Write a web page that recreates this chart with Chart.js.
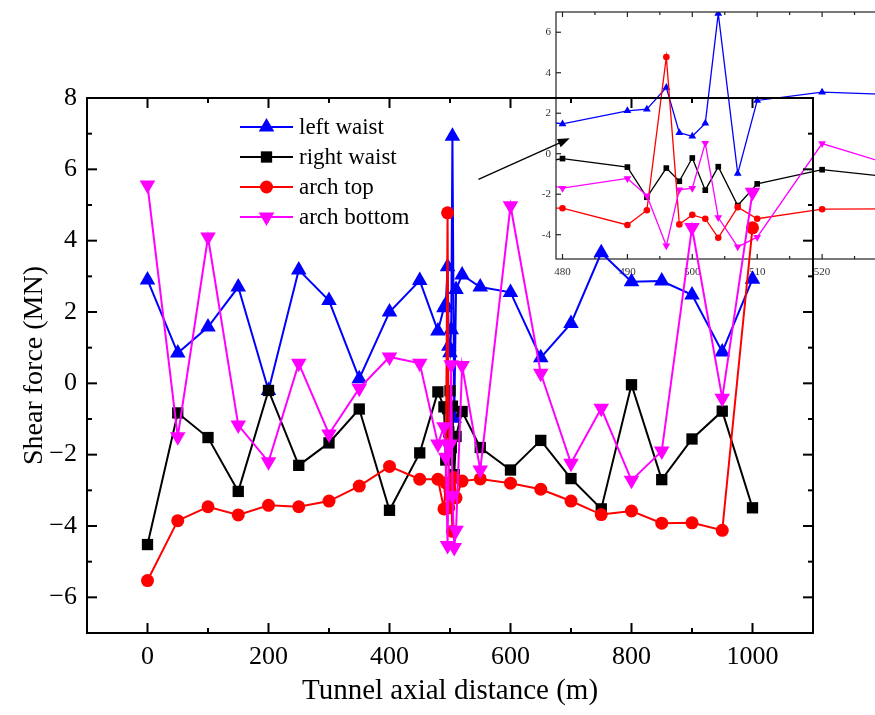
<!DOCTYPE html>
<html>
<head>
<meta charset="utf-8">
<script src="https://cdn.jsdelivr.net/npm/chart.js@4.4.1/dist/chart.umd.min.js"></script>
<style>
  html, body { margin: 0; padding: 0; background: #fff; overflow: hidden; }
  #wrap { position: relative; width: 875px; height: 715px; overflow: hidden; }
  #inset { position: absolute; left: 500px; top: 0; }
  #main { position: absolute; left: 0; top: 0; }
</style>
</head>
<body>
<div id="wrap">
  <canvas id="inset" width="420" height="290"></canvas>
  <canvas id="main" width="875" height="715"></canvas>
</div>
<script>
// Tunnel axial distance (m)
const distance = [0, 50, 100, 150, 200, 250, 300, 350, 400, 450, 480, 490, 493, 496, 498, 500, 502, 504, 507, 510, 520, 550, 600, 650, 700, 750, 800, 850, 900, 950, 1000];

// Shear force (MN)
const leftWaist = [2.9, 0.85, 1.58, 2.7, -0.2, 3.18, 2.32, 0.13, 2.0, 2.88, 1.47, 2.12, 2.2, 3.27, 1.04, 0.86, 1.5, 6.93, -0.98, 2.63, 3.04, 2.7, 2.55, 0.72, 1.68, 3.66, 2.85, 2.87, 2.48, 0.88, 2.92];
const rightWaist = [-4.52, -0.83, -1.52, -3.03, -0.2, -2.3, -1.67, -0.72, -3.56, -1.95, -0.24, -0.66, -2.15, -0.71, -1.36, -0.21, -1.8, -0.64, -2.56, -1.49, -0.79, -1.8, -2.43, -1.6, -2.67, -3.52, -0.04, -2.7, -1.56, -0.78, -3.49];
const archTop = [-5.53, -3.85, -3.46, -3.69, -3.42, -3.46, -3.3, -2.88, -2.33, -2.69, -2.69, -3.52, -2.79, 4.78, -3.49, -3.02, -3.21, -4.15, -2.64, -3.21, -2.74, -2.68, -2.8, -2.97, -3.3, -3.68, -3.58, -3.92, -3.91, -4.12, 4.36];
const archBottom = [5.56, -1.5, 4.1, -1.17, -2.2, 0.56, -1.42, -0.14, 0.74, 0.56, -1.7, -1.22, -2.07, -4.55, -1.78, -1.7, 0.52, -3.15, -4.6, -4.12, 0.5, -2.43, 4.98, 0.28, -2.24, -0.7, -2.72, -1.9, 4.37, -0.42, 5.36];

const seriesNames = ["left waist", "right waist", "arch top", "arch bottom"];
const seriesColors = ["#0000ff", "#000000", "#ff0000", "#ff00ff"];
const seriesMarkers = ["triangle", "rect", "circle", "triangle"];
const seriesRotation = [0, 0, 0, 180];

const xTicksMain = [0, 200, 400, 600, 800, 1000];
const yTicksMain = [-6, -4, -2, 0, 2, 4, 6, 8];
const xTicksInset = [480, 490, 500, 510, 520, 530];
const yTicksInset = [-4, -2, 0, 2, 4, 6];

// arrow pointing from the main plot to the inset (data coords of main chart)
const arrowFrom = { x: 547, y: 5.72 };
const arrowTo = { x: 698, y: 6.87 };

const SERIF = "'Liberation Serif', 'Times New Roman', serif";

function makeDatasets(radii, lineWidth) {
    return [leftWaist, rightWaist, archTop, archBottom].map((vals, i) => ({
        label: seriesNames[i],
        data: distance.map((d, j) => ({ x: d, y: vals[j] })),
        borderColor: seriesColors[i],
        backgroundColor: seriesColors[i],
        pointBackgroundColor: seriesColors[i],
        pointStyle: seriesMarkers[i],
        rotation: seriesRotation[i],
        pointRadius: radii[i],
        pointBorderWidth: 0,
        borderWidth: lineWidth,
        tension: 0,
        order: 3 - i
    }));
}

// frame with inward ticks on all four sides
const framePlugin = {
    id: "frame",
    afterDatasetsDraw(chart, args, o) {
        const { ctx, chartArea: a, scales: { x, y } } = chart;
        ctx.save();
        ctx.strokeStyle = o.color;
        ctx.lineWidth = o.lineWidth;
        ctx.strokeRect(a.left, a.top, a.right - a.left, a.bottom - a.top);
        const line = (x1, y1, x2, y2) => { ctx.beginPath(); ctx.moveTo(x1, y1); ctx.lineTo(x2, y2); ctx.stroke(); };
        const n0 = Math.ceil(x.min / o.xMinor), n1 = Math.floor(x.max / o.xMinor);
        for (let n = n0; n <= n1; n++) {
            const v = n * o.xMinor;
            const px = x.getPixelForValue(v);
            const len = Math.abs(v % o.xMajor) < 1e-6 ? o.major : o.minor;
            line(px, a.bottom, px, a.bottom - len);
            line(px, a.top, px, a.top + len);
        }
        const m0 = Math.ceil(y.min / o.yMinor), m1 = Math.floor(y.max / o.yMinor);
        for (let m = m0; m <= m1; m++) {
            const v = m * o.yMinor;
            const py = y.getPixelForValue(v);
            const len = Math.abs(v % o.yMajor) < 1e-6 ? o.major : o.minor;
            line(a.left, py, a.left + len, py);
            line(a.right, py, a.right - len, py);
        }
        ctx.restore();
    }
};

// legend with line through marker, plus the arrow
const legendArrowPlugin = {
    id: "legendArrow",
    afterDraw(chart) {
        const { ctx, scales: { x, y } } = chart;
        ctx.save();
        chart.data.datasets.forEach((ds, i) => {
            const cy = 127 + i * 30;
            ctx.strokeStyle = ds.borderColor;
            ctx.lineWidth = 2;
            ctx.beginPath(); ctx.moveTo(240, cy); ctx.lineTo(293, cy); ctx.stroke();
            ctx.fillStyle = ds.borderColor;
            Chart.helpers.drawPoint(ctx, { pointStyle: ds.pointStyle, rotation: ds.rotation, radius: ds.pointRadius, borderWidth: 0 }, 266.5, cy);
            ctx.fillStyle = "#000";
            ctx.font = "23px " + SERIF;
            ctx.textBaseline = "middle";
            ctx.textAlign = "left";
            ctx.fillText(ds.label, 299, cy + 1);
        });
        // arrow
        const x1 = x.getPixelForValue(arrowFrom.x), y1 = y.getPixelForValue(arrowFrom.y);
        const x2 = x.getPixelForValue(arrowTo.x), y2 = y.getPixelForValue(arrowTo.y);
        const ang = Math.atan2(y2 - y1, x2 - x1);
        ctx.strokeStyle = "#000";
        ctx.fillStyle = "#000";
        ctx.lineWidth = 1.3;
        ctx.beginPath(); ctx.moveTo(x1, y1); ctx.lineTo(x2 - 8 * Math.cos(ang), y2 - 8 * Math.sin(ang)); ctx.stroke();
        ctx.beginPath();
        ctx.moveTo(x2, y2);
        ctx.lineTo(x2 - 12 * Math.cos(ang) + 4.5 * Math.sin(ang), y2 - 12 * Math.sin(ang) - 4.5 * Math.cos(ang));
        ctx.lineTo(x2 - 12 * Math.cos(ang) - 4.5 * Math.sin(ang), y2 - 12 * Math.sin(ang) + 4.5 * Math.cos(ang));
        ctx.closePath();
        ctx.fill();
        ctx.restore();
    }
};

// inset: zoom on 480-530 m
new Chart(document.getElementById("inset"), {
    type: "line",
    data: { datasets: makeDatasets([4.5, 4, 3.3, 4.5], 1.3) },
    options: {
        responsive: false,
        animation: false,
        devicePixelRatio: 1,
        layout: { padding: { top: 12, right: 33, bottom: 0, left: 0 } },
        plugins: {
            legend: { display: false },
            tooltip: { enabled: false },
            frame: { color: "#222", lineWidth: 1.2, major: 5, minor: 3, xMajor: 10, xMinor: 5, yMajor: 2, yMinor: 2 }
        },
        scales: {
            x: {
                type: "linear", min: 479, max: 530,
                grid: { display: false, drawTicks: false },
                border: { display: false },
                afterBuildTicks: s => { s.ticks = xTicksInset.map(v => ({ value: v })); },
                afterFit: s => { s.height = 31; },
                ticks: { autoSkip: false, maxRotation: 0, padding: 7, color: "#333", font: { family: SERIF, size: 11 },
                         callback: v => String(v) }
            },
            y: {
                min: -5.2, max: 7,
                grid: { display: false, drawTicks: false },
                border: { display: false },
                afterBuildTicks: s => { s.ticks = yTicksInset.map(v => ({ value: v })); },
                afterFit: s => { s.width = 56; },
                ticks: { autoSkip: false, padding: 5, color: "#333", font: { family: SERIF, size: 11 },
                         callback: v => String(v) }
            }
        }
    },
    plugins: [framePlugin]
});

// main chart
new Chart(document.getElementById("main"), {
    type: "line",
    data: { datasets: makeDatasets([9, 8, 6.5, 9], 2) },
    options: {
        responsive: false,
        animation: false,
        devicePixelRatio: 1,
        layout: { padding: { top: 98, right: 62, bottom: 0, left: 0 } },
        plugins: {
            legend: { display: false },
            tooltip: { enabled: false },
            frame: { color: "#000", lineWidth: 2, major: 10, minor: 5, xMajor: 200, xMinor: 100, yMajor: 2, yMinor: 1 }
        },
        scales: {
            x: {
                type: "linear", min: -100, max: 1100,
                grid: { display: false, drawTicks: false },
                border: { display: false },
                afterBuildTicks: s => { s.ticks = xTicksMain.map(v => ({ value: v })); },
                afterFit: s => { s.height = 82; },
                ticks: { autoSkip: false, maxRotation: 0, padding: 9, color: "#000", font: { family: SERIF, size: 26 },
                         callback: v => String(v) },
                title: { display: true, text: "Tunnel axial distance (m)", color: "#000", font: { family: SERIF, size: 29 }, padding: { top: 0, bottom: 6 } }
            },
            y: {
                min: -7, max: 8,
                grid: { display: false, drawTicks: false },
                border: { display: false },
                afterBuildTicks: s => { s.ticks = yTicksMain.map(v => ({ value: v })); },
                afterFit: s => { s.width = 87; },
                ticks: { autoSkip: false, padding: 10, color: "#000", font: { family: SERIF, size: 26 },
                         callback: v => String(v).replace("-", "\u2212") },
                title: { display: true, text: "Shear force (MN)", color: "#000", font: { family: SERIF, size: 28 }, padding: { top: 18, bottom: 0 } }
            }
        }
    },
    plugins: [framePlugin, legendArrowPlugin]
});
</script>
</body>
</html>
